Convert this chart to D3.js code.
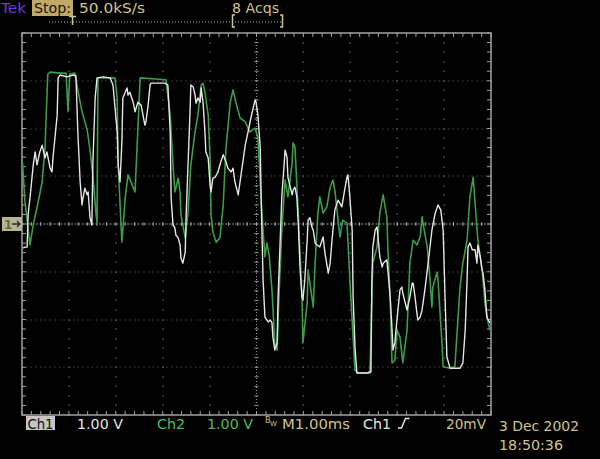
<!DOCTYPE html>
<html>
<head>
<meta charset="utf-8">
<script src="https://cdn.jsdelivr.net/npm/d3@7"></script>
<style>
  html, body { margin: 0; padding: 0; background: #000; }
  svg { display: block; }
  text { font-family: "DejaVu Sans", sans-serif; }
</style>
</head>
<body>
<svg id="scope" width="600" height="459"></svg>
<script>
// ---------- data (time in ms, level in V) ----------
const timeRange = [0, 10];      // 1.00 ms / div, 10 divisions
const voltRange = [-4, 4];      // 1.00 V / div, 8 divisions

const ch1Samples = [
[0.02,-0.50],[0.11,-0.48],[0.13,0.19],[0.17,0.54],[0.24,1.24],[0.28,1.51],[0.32,1.24],[0.38,1.51],[0.43,1.65],[0.49,1.38],[0.53,1.51],[0.60,1.17],[0.64,1.09],[0.66,1.38],[0.75,2.28],[0.77,3.06],[0.81,3.12],[0.96,3.08],[1.09,3.12],[1.15,3.10],[1.19,1.93],[1.24,0.88],[1.28,0.40],[1.30,0.54],[1.34,0.75],[1.39,0.61],[1.41,0.67],[1.45,0.13],[1.49,-0.02],[1.51,1.24],[1.56,2.64],[1.60,3.06],[1.73,3.08],[1.88,3.06],[1.94,2.91],[2.03,1.93],[2.05,1.24],[2.09,0.88],[2.13,1.72],[2.15,2.64],[2.24,2.85],[2.26,2.70],[2.30,2.76],[2.37,2.55],[2.41,2.35],[2.47,2.55],[2.54,2.49],[2.62,2.07],[2.64,2.12],[2.69,2.49],[2.73,2.91],[2.75,2.95],[2.90,2.95],[3.05,2.95],[3.11,2.91],[3.16,1.93],[3.18,0.54],[3.22,-0.02],[3.26,-0.08],[3.28,-0.23],[3.33,-0.29],[3.37,-0.44],[3.39,-0.71],[3.43,-0.82],[3.48,-0.59],[3.50,0.19],[3.54,1.24],[3.58,2.28],[3.60,2.91],[3.65,2.87],[3.69,2.70],[3.71,2.53],[3.75,2.64],[3.80,2.55],[3.82,2.85],[3.86,2.55],[3.90,1.93],[3.92,1.51],[3.97,1.38],[4.01,0.82],[4.03,0.67],[4.07,0.96],[4.12,0.98],[4.18,1.09],[4.22,1.24],[4.29,1.45],[4.35,1.30],[4.39,1.17],[4.46,1.09],[4.50,1.17],[4.54,0.88],[4.61,0.61],[4.67,1.03],[4.76,1.65],[4.82,1.93],[4.88,2.22],[4.97,2.60],[4.99,2.55],[5.03,2.28],[5.08,1.59],[5.10,0.50],[5.14,-1.17],[5.18,-1.95],[5.25,-2.05],[5.29,-2.01],[5.33,-2.07],[5.35,-2.37],[5.39,-2.64],[5.44,-2.49],[5.46,-1.53],[5.50,-0.48],[5.54,0.57],[5.61,1.55],[5.65,1.40],[5.67,0.98],[5.76,0.61],[5.78,0.71],[5.82,0.77],[5.86,0.57],[5.89,0.02],[5.93,-0.96],[5.97,-1.53],[5.99,-1.59],[6.03,-1.17],[6.08,-0.34],[6.10,0.08],[6.14,0.13],[6.18,-0.06],[6.21,-0.13],[6.25,-0.40],[6.29,-0.44],[6.35,-0.48],[6.42,-0.27],[6.46,-0.61],[6.53,-1.03],[6.57,-0.82],[6.61,-0.34],[6.67,0.29],[6.74,0.50],[6.82,0.36],[6.89,0.77],[6.93,0.98],[6.95,1.03],[6.99,0.57],[7.04,-0.13],[7.06,-1.53],[7.10,-2.58],[7.14,-3.12],[7.21,-3.12],[7.38,-3.12],[7.44,-3.10],[7.46,-1.17],[7.48,-0.48],[7.53,-0.13],[7.57,-0.06],[7.59,-0.27],[7.63,-0.69],[7.68,-0.90],[7.70,-0.82],[7.78,-0.75],[7.80,-0.96],[7.85,-1.53],[7.89,-2.22],[7.91,-2.64],[7.95,-2.49],[8.00,-1.95],[8.06,-1.38],[8.10,-1.32],[8.12,-1.45],[8.17,-1.65],[8.21,-1.80],[8.27,-1.53],[8.32,-1.24],[8.34,-1.24],[8.38,-1.53],[8.42,-1.86],[8.44,-2.01],[8.49,-1.95],[8.53,-1.80],[8.59,-1.38],[8.66,-0.82],[8.74,-0.13],[8.81,0.23],[8.87,0.40],[8.93,0.29],[8.98,-0.13],[9.02,-1.53],[9.06,-2.79],[9.13,-3.02],[9.34,-3.02],[9.40,-2.91],[9.45,-2.22],[9.49,-1.17],[9.51,-0.48],[9.55,-0.40],[9.60,-0.54],[9.66,-0.54],[9.70,-0.82],[9.72,-0.44],[9.77,-0.69],[9.81,-0.96],[9.83,-1.03],[9.87,-1.38],[9.91,-1.95],[9.94,-2.01],[9.98,-2.07]
];

const ch2Samples = [
[0.01,1.30],[0.06,0.50],[0.17,-0.44],[0.24,-0.02],[0.32,0.34],[0.43,0.88],[0.49,1.59],[0.53,2.64],[0.55,3.14],[0.60,3.18],[0.81,3.16],[0.94,3.16],[0.98,2.35],[1.02,3.14],[1.13,3.16],[1.19,2.81],[1.28,2.35],[1.39,1.97],[1.45,1.55],[1.51,1.03],[1.58,0.19],[1.60,0.04],[1.62,3.06],[1.98,3.06],[2.03,2.64],[2.05,1.24],[2.13,-0.38],[2.20,0.54],[2.26,1.03],[2.35,0.82],[2.41,0.67],[2.52,3.06],[3.07,3.02],[3.16,2.28],[3.22,1.24],[3.26,0.67],[3.33,0.96],[3.37,0.67],[3.39,0.19],[3.48,-0.29],[3.54,0.25],[3.60,1.24],[3.69,1.93],[3.75,2.28],[3.82,2.91],[3.86,2.95],[3.90,2.76],[3.97,2.28],[4.01,1.38],[4.03,0.19],[4.07,-0.17],[4.14,-0.38],[4.22,-0.29],[4.29,0.40],[4.35,1.59],[4.44,2.55],[4.50,2.81],[4.56,2.55],[4.65,2.22],[4.76,2.14],[4.86,1.93],[4.97,2.01],[5.03,1.80],[5.10,0.50],[5.14,-0.13],[5.18,-0.69],[5.22,-0.40],[5.27,-0.65],[5.33,-1.38],[5.39,-2.49],[5.44,-2.64],[5.46,-1.95],[5.54,-0.13],[5.61,0.92],[5.67,0.57],[5.76,1.28],[5.78,1.70],[5.82,1.61],[5.89,0.23],[5.97,-1.53],[5.99,-2.49],[6.08,-1.65],[6.10,-0.96],[6.18,-1.53],[6.21,-1.74],[6.25,-0.82],[6.31,0.23],[6.35,0.57],[6.42,0.23],[6.50,0.36],[6.57,0.77],[6.63,0.92],[6.67,0.71],[6.74,0.08],[6.78,-0.27],[6.84,0.08],[6.93,0.02],[6.99,-1.17],[7.06,-2.37],[7.10,-3.06],[7.16,-3.12],[7.38,-3.12],[7.42,-3.06],[7.46,-1.53],[7.48,-0.82],[7.57,-0.48],[7.63,0.23],[7.70,0.61],[7.78,0.15],[7.80,-0.48],[7.85,-1.53],[7.89,-2.91],[7.95,-2.85],[8.00,-2.22],[8.06,-2.37],[8.12,-2.91],[8.21,-2.22],[8.27,-0.82],[8.34,-0.34],[8.42,-0.44],[8.49,-0.27],[8.53,0.15],[8.55,0.02],[8.64,-0.48],[8.70,-1.17],[8.74,-1.74],[8.76,-1.32],[8.85,-1.01],[8.87,-1.17],[8.96,-2.58],[8.98,-2.99],[9.13,-3.02],[9.23,-2.99],[9.28,-2.22],[9.34,-1.32],[9.40,-0.82],[9.49,-0.34],[9.55,0.57],[9.62,0.98],[9.66,0.44],[9.72,-0.34],[9.81,-0.96],[9.87,-1.65],[9.94,-2.07],[9.98,-2.22]
];

const topLabels = ["Tek", "Stop:", "50.0kS/s", "8 Acqs"];
const bottomLabels = ["Ch1", "1.00 V", "Ch2", "1.00 V", "M1.00ms", "Ch1", "20mV"];
const dateLabels = ["3 Dec 2002", "18:50:36"];

// ---------- drawing ----------
const svg = d3.select("#scope");
const x = d3.scaleLinear().domain(timeRange).range([22, 491]);
const y = d3.scaleLinear().domain(voltRange).range([415, 33]);

const TAN = "#d2c38c", GRID = "#6e6e6e", FRAME = "#a2a2a2";
const WHITE = "#e6e6e6", GREEN = "#4fbf5a";

svg.append("rect").attr("width", 600).attr("height", 459).attr("fill", "#000");

const grid = svg.append("g");
const xMajor = d3.range(timeRange[0], timeRange[1] + 1, 1);
const yMajor = d3.range(voltRange[0], voltRange[1] + 1, 1);
const xMinor = d3.range(0, 50.5, 1).map(i => i * 0.2);
const yMinor = d3.range(0, 40.5, 1).map(i => -4 + i * 0.2);
const xFine = d3.range(0, 100.5, 1).map(i => i * 0.1);

// dotted interior major lines
xMajor.filter(t => t > 0 && t < 10 && t !== 5).forEach(t => {
  grid.selectAll(null).data(yMinor).join("rect")
    .attr("x", Math.round(x(t)) - 0.5).attr("y", d => Math.round(y(d)) - 0.5)
    .attr("width", 1.2).attr("height", 1.2).attr("fill", "#858585");
});
yMajor.filter(v => v > -4 && v < 4 && v !== 0).forEach(v => {
  grid.selectAll(null).data(xFine).join("rect")
    .attr("x", d => Math.round(x(d)) - 0.5).attr("y", Math.round(y(v)) - 0.5)
    .attr("width", 1).attr("height", 1).attr("fill", GRID);
});

// center cross lines
grid.append("line").attr("x1", x(0)).attr("x2", x(10)).attr("y1", y(0)).attr("y2", y(0))
  .attr("stroke", "#a0a0a0").attr("stroke-width", 1).attr("stroke-dasharray", "2,1.5");
grid.append("line").attr("x1", x(5)).attr("x2", x(5)).attr("y1", y(4)).attr("y2", y(-4))
  .attr("stroke", "#909090").attr("stroke-width", 1).attr("stroke-dasharray", "1,2");
grid.selectAll(null).data(xMinor).join("line")
  .attr("x1", d => x(d)).attr("x2", d => x(d)).attr("y1", y(0) - 2).attr("y2", y(0) + 2)
  .attr("stroke", "#9a9a9a").attr("stroke-width", 1);
grid.selectAll(null).data(yMinor).join("line")
  .attr("y1", d => y(d)).attr("y2", d => y(d)).attr("x1", x(5) - 2).attr("x2", x(5) + 2)
  .attr("stroke", "#9a9a9a").attr("stroke-width", 1);

// frame with inward ticks
grid.append("rect").attr("x", x(0)).attr("y", y(4)).attr("width", x(10) - x(0)).attr("height", y(-4) - y(4))
  .attr("fill", "none").attr("stroke", FRAME).attr("stroke-width", 1.5);
grid.selectAll(null).data(xMinor).join("line")
  .attr("x1", d => x(d)).attr("x2", d => x(d)).attr("y1", y(4)).attr("y2", y(4) + 4)
  .attr("stroke", FRAME).attr("stroke-width", 1);
grid.selectAll(null).data(xMinor).join("line")
  .attr("x1", d => x(d)).attr("x2", d => x(d)).attr("y1", y(-4)).attr("y2", y(-4) - 4)
  .attr("stroke", FRAME).attr("stroke-width", 1);
grid.selectAll(null).data(yMinor).join("line")
  .attr("y1", d => y(d)).attr("y2", d => y(d)).attr("x1", x(0)).attr("x2", x(0) + 4)
  .attr("stroke", FRAME).attr("stroke-width", 1);
grid.selectAll(null).data(yMinor).join("line")
  .attr("y1", d => y(d)).attr("y2", d => y(d)).attr("x1", x(10)).attr("x2", x(10) - 4)
  .attr("stroke", FRAME).attr("stroke-width", 1);

// traces
const line = d3.line().x(d => x(d[0])).y(d => y(d[1]));
svg.append("path").datum(ch2Samples).attr("d", line)
  .attr("fill", "none").attr("stroke", "#3c9c48").attr("stroke-width", 1.6).attr("stroke-linejoin", "round");
svg.append("path").datum(ch1Samples).attr("d", line)
  .attr("fill", "none").attr("stroke", WHITE).attr("stroke-width", 1.4).attr("stroke-linejoin", "round");

// ground marker "1→"
svg.append("rect").attr("x", 2).attr("y", y(0) - 7).attr("width", 20).attr("height", 14).attr("fill", "#b3b598");
svg.append("text").attr("x", 4).attr("y", y(0) + 5).attr("font-size", 12).attr("font-weight", "bold")
  .attr("fill", "#6e6a22").text("1");
svg.append("path").attr("d", `M12,${y(0)} H20 M17,${y(0) - 3} L20,${y(0)} L17,${y(0) + 3}`)
  .attr("stroke", "#2a2a2a").attr("stroke-width", 1.3).attr("fill", "none");

// top status line
const txt = (s, x0, yb, fill, len, size = 14) =>
  svg.append("text").attr("x", x0).attr("y", yb).attr("font-size", size).attr("fill", fill)
    .attr("textLength", len).attr("lengthAdjust", "spacingAndGlyphs").text(s);

txt(topLabels[0], 1, 13, "#6b3bd8", 25);
svg.append("rect").attr("x", 32).attr("y", 0).attr("width", 41).attr("height", 16).attr("fill", "#c2a866");
txt(topLabels[1], 34, 13, "#141414", 37);
txt(topLabels[2], 79, 13, TAN, 66);
txt(topLabels[3], 232, 13, TAN, 47);

svg.append("line").attr("x1", 49).attr("x2", 283).attr("y1", 22).attr("y2", 22)
  .attr("stroke", "#b8b8b8").attr("stroke-dasharray", "1,2");
svg.append("path").attr("d", "M69,16.5 H76 M72.5,16.5 V25")
  .attr("stroke", TAN).attr("stroke-width", 1.5).attr("fill", "none");
svg.append("path").attr("d", "M235,15 H232.5 V27 H235 M280,15 H282.5 V27 H280")
  .attr("stroke", TAN).attr("stroke-width", 1.5).attr("fill", "none");

// bottom status line
svg.append("rect").attr("x", 26).attr("y", 416).attr("width", 29).attr("height", 14).attr("fill", "#c6c6c6");
txt(bottomLabels[0], 27.5, 428.5, "#111", 26);
txt(bottomLabels[1], 77, 428.5, WHITE, 46);
txt(bottomLabels[2], 157, 428.5, GREEN, 28);
txt(bottomLabels[3], 207, 428.5, GREEN, 46);
svg.append("text").attr("x", 265).attr("y", 423).attr("font-size", 8).attr("fill", TAN).text("B");
svg.append("text").attr("x", 270).attr("y", 426).attr("font-size", 7).attr("fill", TAN).text("W");
txt(bottomLabels[4], 282, 428.5, TAN, 68);
txt(bottomLabels[5], 363, 428.5, WHITE, 28);
svg.append("path").attr("d", "M398,428 H401.5 L405.5,418.5 H409.5")
  .attr("stroke", WHITE).attr("stroke-width", 1.4).attr("fill", "none");
txt(bottomLabels[6], 446, 428.5, TAN, 40);
txt(dateLabels[0], 499, 431, TAN, 80);
txt(dateLabels[1], 499, 450, TAN, 64);
</script>
</body>
</html>
